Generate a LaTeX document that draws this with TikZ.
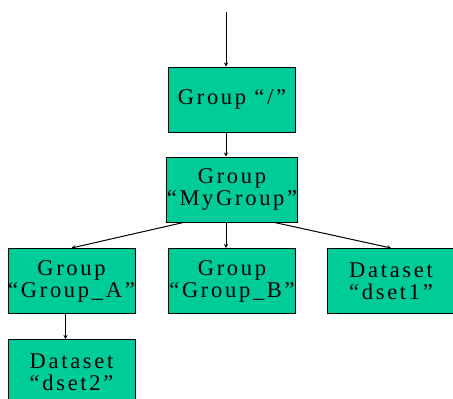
\documentclass[tikz,border=0pt]{standalone}
\usepackage{fontspec}
\setmainfont{Liberation Serif}[LetterSpace=12]
\usetikzlibrary{arrows.meta}
\definecolor{boxgreen}{RGB}{0,204,153}

\begin{document}
\begin{tikzpicture}[x=1pt,y=-1pt,->,>={Stealth[length=4pt,width=4pt]},line width=1pt,node distance=91pt,
    tree node/.style={rectangle,draw,fill=boxgreen,minimum width=127pt,minimum height=65pt,inner sep=0pt,align=center,font=\fontsize{22.5}{22}\selectfont}]

    \useasboundingbox (0,0) rectangle (453,399);
    \clip (0,0) rectangle (453,399);

    \coordinate (entry) at (226,12);
    \node[tree node] (root) at (232,99.5) {Group ``/''};
    \node[tree node] (mygroup) [below of = root, node distance=90pt] {Group\\``MyGroup''};
    \node[tree node] (groupb) [below of = mygroup, node distance=91.5pt] {Group\\``Group\_B''};
    \node[tree node] (groupa) [left of = groupb, node distance=160.5pt] {Group\\``Group\_A''};
    \node[tree node] (dset1) [right of = groupb, node distance=159pt] {Dataset\\``dset1''};
    \node[tree node] (dset2) [below of = groupa] {Dataset\\``dset2''};

    \path
        (entry) edge ([xshift=-6pt]root.north)
        ([xshift=-6pt]root.south) edge ([xshift=-6pt]mygroup.north)
        ([xshift=17pt]mygroup.south west) edge (groupa.north)
        ([xshift=-6pt]mygroup.south) edge ([xshift=-6pt]groupb.north)
        ([xshift=-23pt]mygroup.south east) edge (dset1.north)
        ([xshift=-6pt]groupa.south) edge ([xshift=-6pt]dset2.north)
    ;
\end{tikzpicture}
\end{document}
